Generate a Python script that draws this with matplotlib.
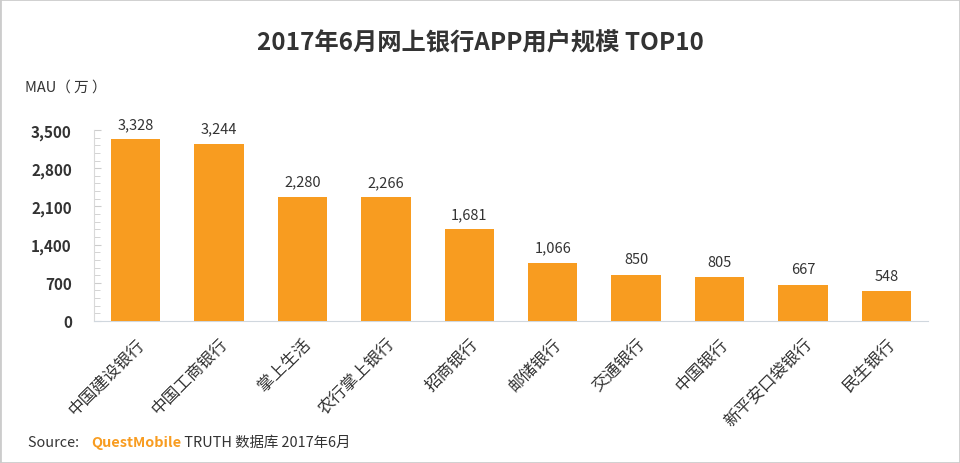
import matplotlib
matplotlib.use("Agg")
import matplotlib.pyplot as plt
from matplotlib.patches import Rectangle
from matplotlib.ticker import MultipleLocator, FuncFormatter

plt.rcParams["font.family"] = ["Noto Sans CJK SC", "DejaVu Sans"]

# data
banks = ["中国建设银行", "中国工商银行", "掌上生活", "农行掌上银行", "招商银行",
         "邮储银行", "交通银行", "中国银行", "新平安口袋银行", "民生银行"]
mau = [3328, 3244, 2280, 2266, 1681, 1066, 850, 805, 667, 548]
y_ticks = [0, 700, 1400, 2100, 2800, 3500]

ORANGE = "#F89C20"
DARK = "#333333"

fig = plt.figure(figsize=(9.6, 4.64), dpi=100)
fig.patches.append(Rectangle((0, 0), 1, 1, transform=fig.transFigure,
                             fill=False, edgecolor="#cccccc", linewidth=2))

ax = fig.add_axes([94 / 960, 1 - 322 / 464, 834 / 960, 191 / 464])
x = range(len(banks))
ax.bar(x, mau, width=0.59, color=ORANGE, zorder=3)

for xi, v in zip(x, mau):
    ax.annotate(f"{v:,}", (xi, v), xytext=(0, 6), textcoords="offset points",
                ha="center", va="bottom", fontsize=10.5, color=DARK)

ax.set_xlim(-0.5, len(banks) - 0.5)
ax.set_ylim(0, 3500)
ax.set_yticks(y_ticks)
ax.yaxis.set_minor_locator(MultipleLocator(140))
ax.yaxis.set_major_formatter(FuncFormatter(lambda v, p: f"{int(v):,}"))
ax.tick_params(axis="y", which="both", direction="in", color="#cccccc",
               labelsize=11, labelcolor=DARK, pad=16)
ax.tick_params(axis="y", which="major", length=5)
ax.tick_params(axis="y", which="minor", length=4)
for lab in ax.get_yticklabels():
    lab.set_fontweight("bold")

ax.set_xticks(list(x))
ax.set_xticklabels(banks, rotation=45, ha="right", va="top",
                   rotation_mode="anchor", fontsize=12, color=DARK)
ax.tick_params(axis="x", length=0, pad=10)

for side in ["top", "right"]:
    ax.spines[side].set_visible(False)
ax.spines["left"].set_color("#d9d9d9")
ax.spines["bottom"].set_color("#d0d7de")

fig.text(0.5, 1 - 43 / 464, "2017年6月网上银行APP用户规模 TOP10", ha="center",
         va="center", fontsize=17.5, fontweight="bold", color=DARK)
fig.text(25 / 960, 1 - 88 / 464, "MAU（ 万 ）", ha="left", va="center",
         fontsize=10.5, color=DARK)

t1 = fig.text(28 / 960, 1 - 443 / 464, "Source:  ", ha="left", va="center",
              fontsize=10.4, color=DARK)
t2 = ax.annotate("QuestMobile", xy=(1, 0), xycoords=t1, xytext=(4, 0),
                 textcoords="offset points", ha="left", va="bottom",
                 fontsize=10.4, fontweight="bold", color=ORANGE,
                 annotation_clip=False)
ax.annotate(" TRUTH 数据库 2017年6月", xy=(1, 0), xycoords=t2, ha="left",
            va="bottom", fontsize=10.4, color=DARK, annotation_clip=False)

fig.savefig("out.png", dpi=100)
